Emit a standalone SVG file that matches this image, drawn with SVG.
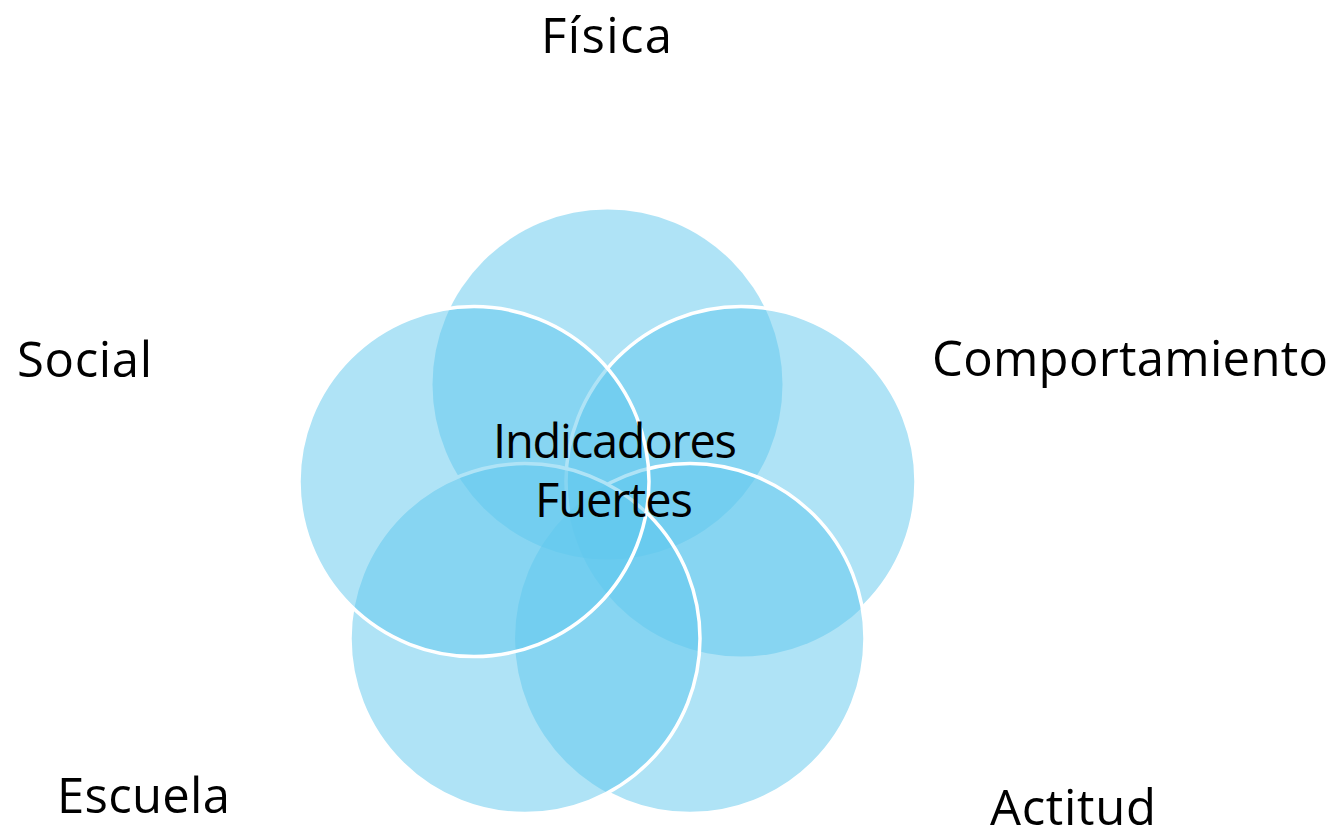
<svg xmlns="http://www.w3.org/2000/svg" width="1338" height="839" viewBox="0 0 1338 839">
  <style>
    .fill { fill: #5FC8ED; fill-opacity: 0.5; stroke: none; }
    .ring { fill: none; stroke: #FFFFFF; stroke-width: 3.5; }
    .lbl { font-family: "Open Sans", "Liberation Sans", sans-serif; font-size: 49px; fill: #000000; text-anchor: middle; }
  </style>
  <defs>
    <clipPath id="outBR">
      <path clip-rule="evenodd" d="M0 0H1338V839H0Z M515 638.6a175 175 0 1 0 350 0a175 175 0 1 0 -350 0Z"/>
    </clipPath>
    <clipPath id="outBL">
      <path clip-rule="evenodd" d="M0 0H1338V839H0Z M350 638.6a175 175 0 1 0 350 0a175 175 0 1 0 -350 0Z"/>
    </clipPath>
  </defs>
  <rect width="1338" height="839" fill="#FFFFFF"/>

  <g id="node-fisica">
    <circle class="fill" cx="607.5" cy="384.5" r="175"/>
    <text class="lbl" x="606.5" y="53" textLength="131">Física</text>
  </g>

  <g id="node-comportamiento">
    <circle class="fill" cx="741" cy="481.6" r="175"/>
    <circle class="ring" cx="741" cy="481.6" r="175" clip-path="url(#outBR)"/>
    <text class="lbl" x="1130" y="376" textLength="396">Comportamiento</text>
  </g>

  <g id="node-actitud">
    <circle class="fill" cx="690" cy="638.6" r="175"/>
    <circle class="ring" cx="690" cy="638.6" r="175" clip-path="url(#outBL)"/>
    <text class="lbl" x="1073" y="825" textLength="166">Actitud</text>
  </g>

  <g id="node-escuela">
    <circle class="fill" cx="525" cy="638.6" r="175"/>
    <circle class="ring" cx="525" cy="638.6" r="175"/>
    <text class="lbl" x="143.5" y="813" textLength="173">Escuela</text>
  </g>

  <g id="node-social">
    <circle class="fill" cx="474" cy="481.6" r="175"/>
    <circle class="ring" cx="474" cy="481.6" r="175"/>
    <text class="lbl" x="84.5" y="377" textLength="135">Social</text>
  </g>

  <g id="node-centro">
    <text class="lbl" x="615" y="458" textLength="244" style="font-size:47px">Indicadores</text>
    <text class="lbl" x="614" y="517" textLength="158" style="font-size:47px">Fuertes</text>
  </g>
</svg>
